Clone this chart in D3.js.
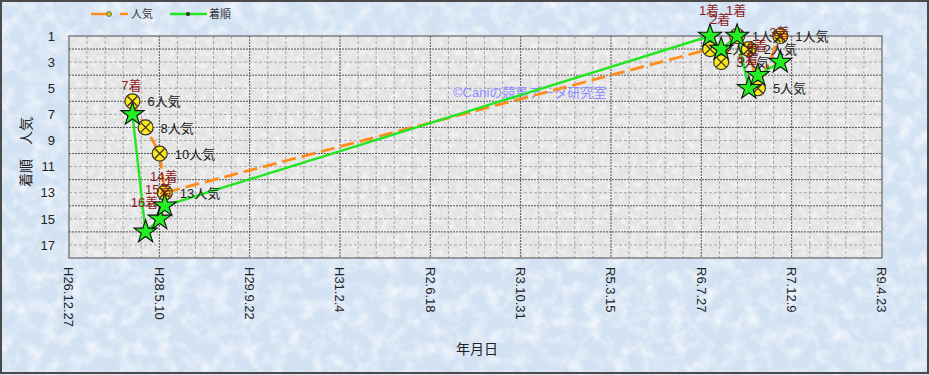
<!DOCTYPE html>
<html>
<head>
<meta charset="utf-8">
<script src="https://cdn.jsdelivr.net/npm/d3@7"></script>
<style>
body { margin: 0; }
svg { display: block; }
text { font-family: "Liberation Sans", "Noto Sans CJK JP", sans-serif; }
</style>
</head>
<body>
<script>
// race data (date, popularity, finish)
var raceDates = ["2015-12-13", "2016-02-24", "2016-05-12", "2016-06-09",
                 "2024-09-13", "2024-11-14", "2025-02-10", "2025-04-16", "2025-06-05", "2025-10-07"];
var ninki = [6, 8, 10, 13, 2, 3, 1, 2, 5, 1];
var chakujun = [7, 16, 15, 14, 1, 2, 1, 5, 4, 3];

var tickDates = ["2014-12-27", "2016-05-10", "2017-09-22", "2019-02-04", "2020-06-18",
                 "2021-10-31", "2023-03-15", "2024-07-27", "2025-12-09", "2027-04-23"];
var tickLabels = ["H26.12.27", "H28.5.10", "H29.9.22", "H31.2.4", "R2.6.18",
                  "R3.10.31", "R5.3.15", "R6.7.27", "R7.12.9", "R9.4.23"];
var yTicks = [1, 3, 5, 7, 9, 11, 13, 15, 17];

var W = 929, H = 375;
var plot = {left: 69, right: 882, top: 36, bottom: 258};

var parse = d3.utcParse("%Y-%m-%d");

var svg = d3.select("body").append("svg")
    .attr("width", W)
    .attr("height", H);

var defs = svg.append("defs");

// paper-ish texture
function texture(id, freq, strength, seed) {
    var f = defs.append("filter").attr("id", id)
        .attr("x", 0).attr("y", 0).attr("width", "100%").attr("height", "100%");
    f.append("feTurbulence")
        .attr("type", "fractalNoise")
        .attr("baseFrequency", freq)
        .attr("numOctaves", 4)
        .attr("seed", seed);
    f.append("feColorMatrix")
        .attr("type", "matrix")
        .attr("values", "0 0 0 0 1  0 0 0 0 1  0 0 0 0 1  " + strength + " 0 0 0 " + (-strength * 0.42));
}
texture("texBg", 0.07, 1.5, 7);
texture("texPlot", 0.16, 1.3, 3);

svg.append("rect")
    .attr("width", W).attr("height", H)
    .attr("fill", "#d3e2f3");
svg.append("rect")
    .attr("width", W).attr("height", H)
    .attr("filter", "url(#texBg)");

svg.append("rect")
    .attr("x", 1).attr("y", 1)
    .attr("width", W - 2).attr("height", H - 3)
    .attr("fill", "none")
    .attr("stroke", "#4a4a4a")
    .attr("stroke-width", 2);

var x = d3.scaleUtc()
    .domain([parse(tickDates[0]), parse(tickDates[tickDates.length - 1])])
    .range([plot.left, plot.right]);

var y = d3.scaleLinear()
    .domain([1, 18])
    .range([plot.top, plot.bottom]);

// plot area
svg.append("rect")
    .attr("x", plot.left).attr("y", plot.top)
    .attr("width", plot.right - plot.left).attr("height", plot.bottom - plot.top)
    .attr("fill", "#e4e4e4");
svg.append("rect")
    .attr("x", plot.left).attr("y", plot.top)
    .attr("width", plot.right - plot.left).attr("height", plot.bottom - plot.top)
    .attr("filter", "url(#texPlot)");

var grid = svg.append("g");

// vertical grid: minor every 100 days, major on ticks
var t0 = parse(tickDates[0]);
var minorDays = d3.range(100, 4500, 100).filter(function(d) { return d % 500 != 0; });
grid.selectAll("line.vminor")
    .data(minorDays)
    .enter().append("line")
    .attr("x1", function(d) { return x(d3.utcDay.offset(t0, d)); })
    .attr("x2", function(d) { return x(d3.utcDay.offset(t0, d)); })
    .attr("y1", plot.top).attr("y2", plot.bottom)
    .attr("stroke", "#a8a8a8")
    .attr("stroke-dasharray", "3,2");

grid.selectAll("line.vmajor")
    .data(tickDates.slice(1, -1))
    .enter().append("line")
    .attr("x1", function(d) { return x(parse(d)); })
    .attr("x2", function(d) { return x(parse(d)); })
    .attr("y1", plot.top).attr("y2", plot.bottom)
    .attr("stroke", "#555")
    .attr("stroke-dasharray", "2,1");

// horizontal grid
grid.selectAll("line.h")
    .data(d3.range(2, 18))
    .enter().append("line")
    .attr("x1", plot.left).attr("x2", plot.right)
    .attr("y1", function(d) { return y(d); })
    .attr("y2", function(d) { return y(d); })
    .attr("stroke", function(d) { return d % 2 == 0 ? "#555" : "#a8a8a8"; })
    .attr("stroke-dasharray", function(d) { return d % 2 == 0 ? "2,1" : "3,2"; });

svg.append("rect")
    .attr("x", plot.left).attr("y", plot.top)
    .attr("width", plot.right - plot.left).attr("height", plot.bottom - plot.top)
    .attr("fill", "none")
    .attr("stroke", "#666")
    .attr("stroke-width", 1.2);

// axes labels
svg.append("g").selectAll("text")
    .data(yTicks)
    .enter().append("text")
    .attr("x", 55)
    .attr("y", function(d) { return y(d); })
    .attr("dy", "0.36em")
    .attr("text-anchor", "end")
    .attr("font-size", 13)
    .attr("fill", "#222")
    .text(function(d) { return d; });

svg.append("g").selectAll("text")
    .data(tickDates)
    .enter().append("text")
    .attr("transform", function(d) { return "translate(" + x(parse(d)) + ",267) rotate(90)"; })
    .attr("dy", "0.36em")
    .attr("font-size", 13)
    .attr("fill", "#222")
    .text(function(d, i) { return tickLabels[i]; });

svg.append("text")
    .attr("transform", "translate(31,152) rotate(-90)")
    .attr("text-anchor", "middle")
    .attr("font-size", 14)
    .attr("fill", "#222")
    .text("着順　人気");

svg.append("text")
    .attr("x", 477).attr("y", 354)
    .attr("text-anchor", "middle")
    .attr("font-size", 14)
    .attr("fill", "#222")
    .text("年月日");

// watermark
svg.append("text")
    .attr("x", 453).attr("y", 97)
    .attr("font-size", 13)
    .attr("fill", "#8c8cff")
    .text("©Caniの競馬データ研究室");

// lines
var races = raceDates.map(function(d, i) {
    return {date: parse(d), ninki: ninki[i], chaku: chakujun[i]};
});

var ninkiLine = d3.line()
    .x(function(d) { return x(d.date); })
    .y(function(d) { return y(d.ninki); });
var chakuLine = d3.line()
    .x(function(d) { return x(d.date); })
    .y(function(d) { return y(d.chaku); });

svg.append("path")
    .datum(races)
    .attr("fill", "none")
    .attr("stroke", "#ff8c1a")
    .attr("stroke-width", 2.8)
    .attr("stroke-dasharray", "14,6")
    .attr("d", ninkiLine);

svg.append("path")
    .datum(races)
    .attr("fill", "none")
    .attr("stroke", "#22e622")
    .attr("stroke-width", 2.4)
    .attr("d", chakuLine);

// popularity markers
var nm = svg.append("g").selectAll("g")
    .data(races)
    .enter().append("g")
    .attr("transform", function(d) { return "translate(" + x(d.date) + "," + y(d.ninki) + ")"; });
nm.append("circle")
    .attr("r", 7.5)
    .attr("fill", "#ffe81a")
    .attr("stroke", "#333")
    .attr("stroke-width", 1.2);
nm.append("path")
    .attr("d", "M-5,-5L5,5M-5,5L5,-5")
    .attr("stroke", "#333")
    .attr("stroke-width", 1.3);

// finish stars
svg.append("g").selectAll("path")
    .data(races)
    .enter().append("path")
    .attr("transform", function(d) { return "translate(" + x(d.date) + "," + y(d.chaku) + ")"; })
    .attr("d", d3.symbol(d3.symbolStar, 165))
    .attr("fill", "#22ee22")
    .attr("stroke", "#111")
    .attr("stroke-width", 1.1);

// data labels
svg.append("g").selectAll("text")
    .data(races)
    .enter().append("text")
    .attr("x", function(d) { return x(d.date) + 15; })
    .attr("y", function(d) { return y(d.ninki); })
    .attr("dy", "0.4em")
    .attr("font-size", 13)
    .attr("fill", "#222")
    .text(function(d) { return d.ninki + "人気"; });

svg.append("g").selectAll("text")
    .data(races)
    .enter().append("text")
    .attr("x", function(d) { return x(d.date) - 1; })
    .attr("y", function(d) { return Math.max(y(d.chaku) - 30, 10); })
    .attr("dy", "0.4em")
    .attr("text-anchor", "middle")
    .attr("font-size", 13)
    .attr("fill", "#8b1a1a")
    .text(function(d) { return d.chaku + "着"; });

// legend
var lg = svg.append("g").attr("font-size", 11).attr("fill", "#333");
lg.append("line").attr("x1", 91).attr("x2", 107).attr("y1", 14).attr("y2", 14)
    .attr("stroke", "#ff8c1a").attr("stroke-width", 2.4);
lg.append("line").attr("x1", 120).attr("x2", 128).attr("y1", 14).attr("y2", 14)
    .attr("stroke", "#ff8c1a").attr("stroke-width", 2.4);
lg.append("circle").attr("cx", 109).attr("cy", 14).attr("r", 2.5)
    .attr("fill", "#c8c81a").attr("stroke", "#333").attr("stroke-width", 0.6);
lg.append("text").attr("x", 131).attr("y", 14).attr("dy", "0.38em").text("人気");
lg.append("line").attr("x1", 170).attr("x2", 207).attr("y1", 14).attr("y2", 14)
    .attr("stroke", "#22e622").attr("stroke-width", 2.4);
lg.append("circle").attr("cx", 188).attr("cy", 14).attr("r", 2)
    .attr("fill", "#222");
lg.append("text").attr("x", 209).attr("y", 14).attr("dy", "0.38em").text("着順");
</script>
</body>
</html>
